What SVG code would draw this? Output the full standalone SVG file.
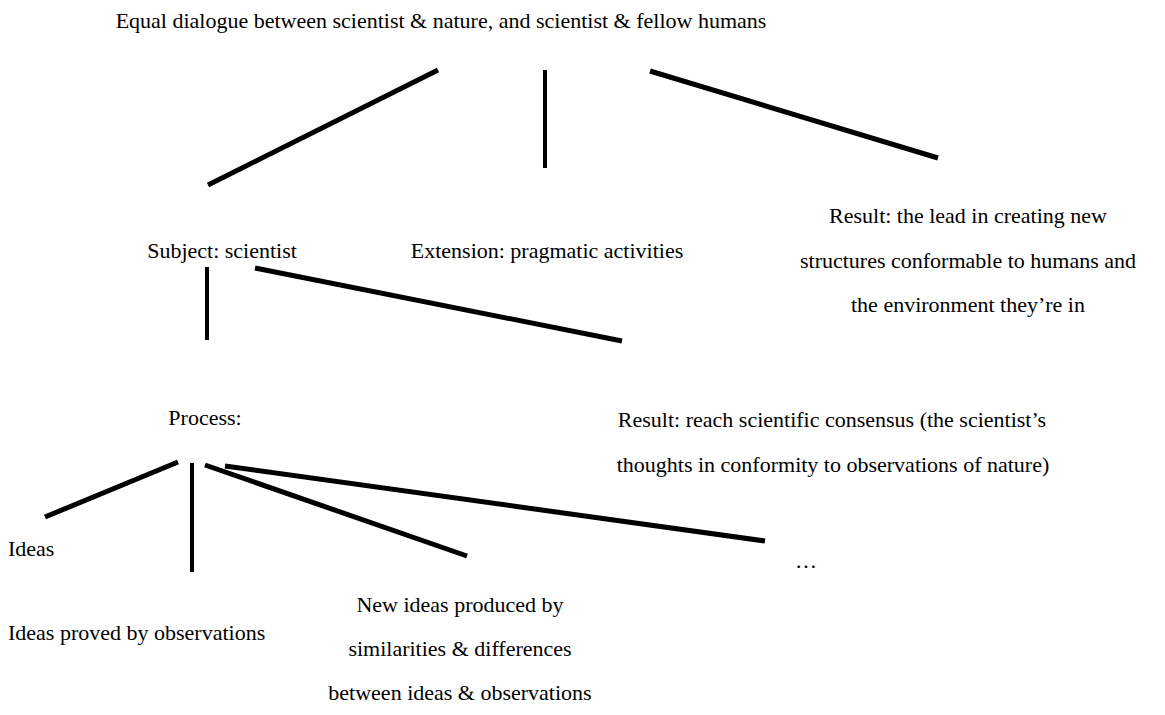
<svg xmlns="http://www.w3.org/2000/svg" width="1165" height="715" viewBox="0 0 1165 715">
<style>
text{font-family:"Liberation Serif","Times New Roman",serif;font-size:22px;fill:#000}
.c{text-anchor:middle}
line{stroke:#000;stroke-linecap:butt}
.t{stroke-width:5}
.n{stroke-width:4}
</style>
<rect width="1165" height="715" fill="#fff"/>
<g id="connectors">
<line class="t" x1="208" y1="185" x2="438" y2="70"/>
<line class="n" x1="545" y1="70" x2="545" y2="168"/>
<line class="t" x1="650" y1="71" x2="938" y2="158"/>
<line class="n" x1="207" y1="267" x2="207" y2="340"/>
<line class="t" x1="255" y1="268" x2="622" y2="341"/>
<line class="t" x1="45" y1="517" x2="178" y2="462"/>
<line class="n" x1="192" y1="463" x2="192" y2="572"/>
<line class="t" x1="205" y1="465" x2="467" y2="556"/>
<line class="t" x1="225" y1="466" x2="765" y2="541"/>
</g>
<g id="root"><text class="c" x="441" y="28">Equal dialogue between scientist &amp; nature, and scientist &amp; fellow humans</text></g>
<g id="subject"><text class="c" x="222" y="258">Subject: scientist</text></g>
<g id="extension"><text class="c" x="547" y="258">Extension: pragmatic activities</text></g>
<g id="result1">
<text class="c" x="968" y="223">Result: the lead in creating new</text>
<text class="c" x="968" y="268">structures conformable to humans and</text>
<text class="c" x="968" y="312">the environment they’re in</text>
</g>
<g id="process"><text class="c" x="205" y="425">Process:</text></g>
<g id="result2">
<text class="c" x="832" y="427">Result: reach scientific consensus (the scientist’s</text>
<text class="c" x="833" y="472">thoughts in conformity to observations of nature)</text>
</g>
<g id="ideas"><text x="8" y="556">Ideas</text></g>
<g id="ellipsis"><text x="795" y="568">…</text></g>
<g id="proved"><text x="8" y="640">Ideas proved by observations</text></g>
<g id="newideas">
<text class="c" x="460" y="612">New ideas produced by</text>
<text class="c" x="460" y="656">similarities &amp; differences</text>
<text class="c" x="460" y="700">between ideas &amp; observations</text>
</g>
</svg>
